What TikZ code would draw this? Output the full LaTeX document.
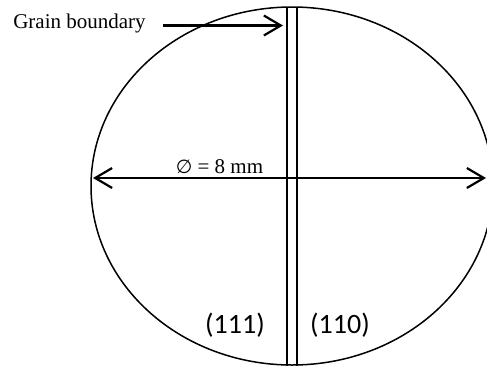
\documentclass[tikz,border=0pt]{standalone}
\usepackage{fontspec}
\setmainfont{Liberation Serif}
\newfontfamily\calfont{Carlito}
\newfontfamily\symfont{DejaVu Sans}
\usetikzlibrary{arrows.meta,shapes.geometric}
\begin{document}
\begin{tikzpicture}[x=1pt,y=-1pt,
  outline/.style={draw=black,line width=1.5pt},
  gbline/.style={draw=black,line width=1.6pt},
  arr/.style={draw=black,line width=2.2pt,-{Straight Barb[length=17pt,width=20pt,line width=2.2pt]}},
  darr/.style={draw=black,line width=2.2pt,{Straight Barb[length=17pt,width=20pt,line width=2.2pt]}-{Straight Barb[length=17pt,width=20pt,line width=2.2pt]}},
  serif/.style={font=\fontsize{21}{25}\selectfont,inner sep=0pt,anchor=base},
  plane/.style={font=\calfont\fontsize{28}{32}\selectfont,inner sep=0pt,anchor=base}]
\useasboundingbox (0,0) rectangle (487,365);
% grain (specimen outline)
\begin{scope}
\clip (0,0) rectangle (487,365);
\node[ellipse,outline,minimum width=402pt,minimum height=358pt,inner sep=0pt] (grain) at (292,186) {};
\end{scope}
% grain boundary double line
\coordinate (gb1t) at (287,8);
\coordinate (gb1b) at (287,366);
\coordinate (gb2t) at (297,8);
\coordinate (gb2b) at (297,366);
\draw[gbline,line width=1.3pt] (gb1t) -- (gb1b);
\draw[gbline] (gb2t) -- (gb2b);
% labels
\node[serif] (gblabel) at (79.5,28.5) {Grain boundary};
\coordinate (gbarrs) at (163,25.5);
\coordinate (gbarre) at (283,25.5);
\draw[arr] (gbarrs) -- (gbarre);
% diameter
\coordinate (dl) at (93,178);
\coordinate (dr) at (486,178);
\draw[darr] (dl) -- (dr);
\node[serif] (dia) at (219.5,173) {{\symfont\fontsize{19}{24}\selectfont ∅} = 8 mm};
% planes
\node[plane] (p111) at (235,333) {(111)};
\node[plane] (p110) at (340,333) {(110)};
\end{tikzpicture}
\end{document}
